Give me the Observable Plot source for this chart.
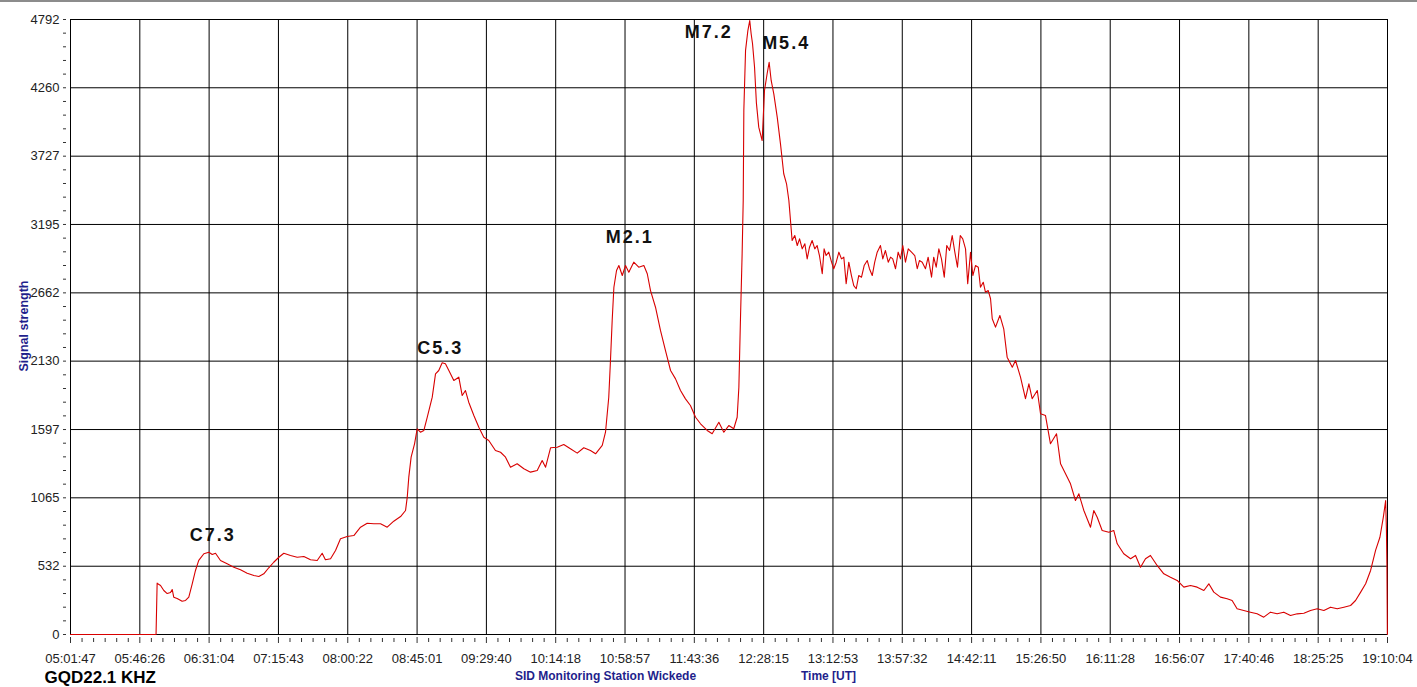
<!DOCTYPE html>
<html><head><meta charset="utf-8">
<script src="https://cdn.jsdelivr.net/npm/d3@7"></script>
<script src="https://cdn.jsdelivr.net/npm/@observablehq/plot@0.6"></script>
<style>
html,body{margin:0;padding:0;background:#fff;}
#chart{position:relative;width:1417px;height:687px;overflow:hidden;background:#fff}
#topline{position:absolute;left:0;top:0;width:1417px;height:2px;background:#8c8c8c}
.flare text{letter-spacing:2px}
</style></head><body><div id="chart"></div>
<script>
const startTime = "05:01:47";
const xTickLabels = ["05:01:47","05:46:26","06:31:04","07:15:43","08:00:22","08:45:01","09:29:40","10:14:18","10:58:57","11:43:36","12:28:15","13:12:53","13:57:32","14:42:11","15:26:50","16:11:28","16:56:07","17:40:46","18:25:25","19:10:04"];
const yTickLabels = [0,532,1065,1597,2130,2662,3195,3727,4260,4792];

// minutes after 05:01:47 UT
const minutes = [0,55.1,55.8,56.2,58.0,60.1,62.3,64.4,65.5,66.5,68.7,71.9,74.1,76.2,78.4,80.5,82.6,85.9,89.1,91.3,93.4,96.6,100.9,105.2,109.5,113.8,118.1,121.3,124.5,127.7,130.9,134.2,137.4,141.7,146.0,150.3,154.6,158.9,162.1,164.2,167.5,170.7,173.9,178.2,182.5,186.8,191.1,195.4,199.7,204.0,208.2,212.6,215.8,216.9,217.9,219.4,221.6,223.3,225.4,227.6,229.8,233.0,235.1,237.2,239.4,241.5,243.7,246.9,250.1,252.3,254.4,256.5,259.8,263.0,266.2,269.4,273.7,277.0,280.2,283.4,287.7,292.0,296.3,300.6,303.8,306.0,309.2,313.5,317.7,322.0,326.4,330.6,334.9,338.2,342.5,344.6,346.7,347.8,348.9,350.0,351.7,353.2,355.4,357.5,359.6,362.8,366.0,369.3,371.5,373.6,376.8,380.0,383.2,386.5,389.7,392.9,396.1,399.3,402.6,405.8,410.1,413.3,417.6,420.8,424.0,427.2,429.4,430.5,431.5,432.6,433.3,433.7,434.8,436.3,437.5,438.4,439.3,440.6,441.8,443.3,445.5,447.0,448.7,450.0,451.3,453.0,455.2,457.3,459.4,461.2,462.7,
464.8,466.5,468.1,469.6,471.3,473.0,474.5,476.0,477.7,479.4,480.9,482.4,484.2,485.4,486.7,488.4,490.2,491.6,493.2,494.9,496.6,498.1,499.6,501.3,503.0,504.5,506.1,507.7,509.5,511.2,513.2,514.6,516.4,518.0,519.6,521.7,523.2,524.9,526.7,528.2,529.6,531.4,533.1,534.6,536.1,537.8,539.6,541.7,543.8,545.4,546.8,548.6,550.7,552.4,554.6,556.0,557.6,559.3,561.0,562.8,564.4,566.2,567.9,569.6,571.3,573.1,574.7,576.5,577.9,579.7,581.2,582.9,584.7,586.1,587.9,589.3,591.1,592.6,
593.7,595.8,598.6,601.1,603.3,606.6,608.7,611.9,615.1,617.3,619.4,622.7,624.8,628.0,631.2,635.1,637.7,640.9,644.1,647.3,649.5,652.7,657.0,659.1,661.3,664.5,668.8,672.0,674.2,678.4,682.8,686.0,689.2,692.4,695.6,699.9,704.2,708.5,712.8,717.1,721.4,725.7,730.0,733.2,736.4,740.7,745.0,748.2,751.4,755.7,760.0,764.3,768.6,772.9,777.2,781.5,785.8,790.1,794.4,798.7,803.0,807.3,811.6,815.9,820.2,824.5,827.7,831.0,834.2,837.4,840.6,843.4,845.6,847.1,847.6,847.9,848.2];
const signal = [0,0,400,395,382,343,319,327,351,291,281,259,265,291,395,499,577,629,641,623,633,577,551,524,504,478,460,452,473,520,563,602,633,616,602,608,582,577,633,582,590,655,746,764,771,836,867,863,863,836,883,919,966,1070,1226,1382,1486,1603,1576,1590,1693,1849,2031,2057,2117,2109,2057,1979,2005,1862,1901,1810,1706,1615,1537,1512,1434,1420,1382,1304,1330,1291,1265,1278,1356,1304,1455,1459,1480,1447,1413,1455,1434,1408,1473,1576,1849,2135,2447,2706,2836,2875,2797,2875,2823,2901,2862,2875,2811,2680,2550,2369,2213,2057,1992,1901,1836,1784,1693,1642,1590,1564,1654,1576,1628,1603,1693,1927,2447,2966,3382,4083,4551,4706,4784,4681,4603,4420,4140,3953,3849,4239,4369,4459,4317,4213,4031,3823,3590,3512,3382,
3070,3109,3031,3083,3005,3044,2927,3018,3070,3005,3031,2953,2811,3005,2953,2979,2901,2850,2901,2979,2927,2940,2733,2901,2797,2719,2694,2797,2784,2875,2914,2850,2797,2901,2979,3031,2927,2992,2901,2940,2927,2850,2979,2927,3031,2901,3005,2979,2953,2850,2914,2901,2850,2940,2784,2940,2862,3005,2927,2784,3031,2992,3109,2979,2862,3109,3083,3005,2733,2979,2797,2875,2862,2706,2745,2667,2680,2616,
2460,2395,2486,2382,2161,2083,2135,2005,1837,1953,1837,1901,1720,1706,1486,1564,1330,1252,1174,1044,1096,966,836,966,914,810,797,810,707,629,590,616,524,590,616,538,473,446,421,369,382,369,343,395,330,291,278,265,200,187,174,161,135,174,161,174,148,161,166,187,200,187,213,200,213,226,265,330,395,499,655,758,914,1044,810,551,0];

const flareClass = ["C7.3","C5.3","M2.1","M7.2","M5.4"];
const flareMinute = [89.1,239.4,362.8,437.5,450.0];
const flareSignal = [641,2117,2901,4784,4459];
const flareDx = [4,-2,-4,-41,17];
const flareDy = [-17,-15,-25,12,-19];

const toSec = s => { const [h,m,x] = s.split(":").map(Number); return h*3600+m*60+x; };
const s0 = toSec(startTime);
const pad = n => String(n).padStart(2,"0");
const fmt = mins => { const t = Math.round(s0 + mins*60); return pad(Math.floor(t/3600))+":"+pad(Math.floor(t%3600/60))+":"+pad(t%60); };
const xTicks = xTickLabels.map(l => (toSec(l)-s0)/60);
const xMinor = [];
for (let i=0;i<xTicks.length-1;i++){ const st=(xTicks[i+1]-xTicks[i])/6; for(let j=1;j<6;j++) xMinor.push(xTicks[i]+j*st); }
const yMax = yTickLabels[yTickLabels.length-1];
const yMinor = [];
for (let i=0;i<yTickLabels.length-1;i++){ const st=(yTickLabels[i+1]-yTickLabels[i])/5; for(let j=1;j<5;j++) yMinor.push(yTickLabels[i]+j*st); }

const n = Math.min(minutes.length, signal.length);
const rows = d3.range(n).map(i => ({t: minutes[i], v: signal[i]}));

const font = "'Liberation Sans', Arial, sans-serif";
const navy = "#1f1f8c";

const marks = [
  Plot.ruleX(xTicks, {stroke: "#000", strokeWidth: 1}),
  Plot.ruleY(yTickLabels, {stroke: "#000", strokeWidth: 1}),
  Plot.axisY({ticks: yTickLabels, tickSize: 3, dx: -4, tickPadding: 4, fontSize: 13, fill: "#222", stroke: "#333", tickFormat: d => String(d), label: null}),
  Plot.axisY({ticks: yMinor, tickSize: 3, dx: -4, tickFormat: () => "", stroke: "#333", label: null}),
  Plot.axisX({ticks: xTicks, tickSize: 6, dy: 3, tickPadding: 10, fontSize: 13, fill: "#222", stroke: "#333", tickFormat: fmt, label: null}),
  Plot.axisX({ticks: xMinor, tickSize: 4, dy: 4, tickFormat: () => "", stroke: "#333", label: null}),
  Plot.line(rows, {x: "t", y: "v", stroke: "#d80000", strokeWidth: 1.1}),
  ...flareClass.map((c, i) => Plot.text([c], {x: () => flareMinute[i], y: () => flareSignal[i], text: d => d, dx: flareDx[i], dy: flareDy[i], fontSize: 18, fontWeight: "bold", fill: "#111", className: "flare"})),
  Plot.text(["GQD22.1 KHZ"], {frameAnchor: "bottom-left", text: d => d, textAnchor: "start", lineAnchor: "bottom", dx: -26, dy: 48, fontSize: 17, fontWeight: "bold", fill: "#000"}),
  Plot.text(["SID Monitoring Station Wickede"], {frameAnchor: "bottom-left", text: d => d, textAnchor: "middle", lineAnchor: "bottom", dx: 535, dy: 45, fontSize: 12, fontWeight: "bold", fill: navy}),
  Plot.text(["Time [UT]"], {frameAnchor: "bottom-left", text: d => d, textAnchor: "middle", lineAnchor: "bottom", dx: 758, dy: 45, fontSize: 12, fontWeight: "bold", fill: navy}),
  Plot.text(["Signal strength"], {frameAnchor: "left", text: d => d, textAnchor: "middle", lineAnchor: "middle", rotate: -90, dx: -47, dy: -1, fontSize: 12.5, fontWeight: "bold", fill: navy})
];

const chart = Plot.plot({
  width: 1417, height: 687,
  marginLeft: 70, marginRight: 30, marginTop: 19, marginBottom: 53,
  style: {fontFamily: font, background: "#fff", overflow: "visible"},
  x: {type: "linear", domain: [0, xTicks[xTicks.length-1]], label: null},
  y: {type: "linear", domain: [0, yMax], label: null},
  marks
});
const host = document.getElementById("chart");
host.appendChild(chart);
const tl = document.createElement("div"); tl.id = "topline"; host.appendChild(tl);
</script>
</body></html>
